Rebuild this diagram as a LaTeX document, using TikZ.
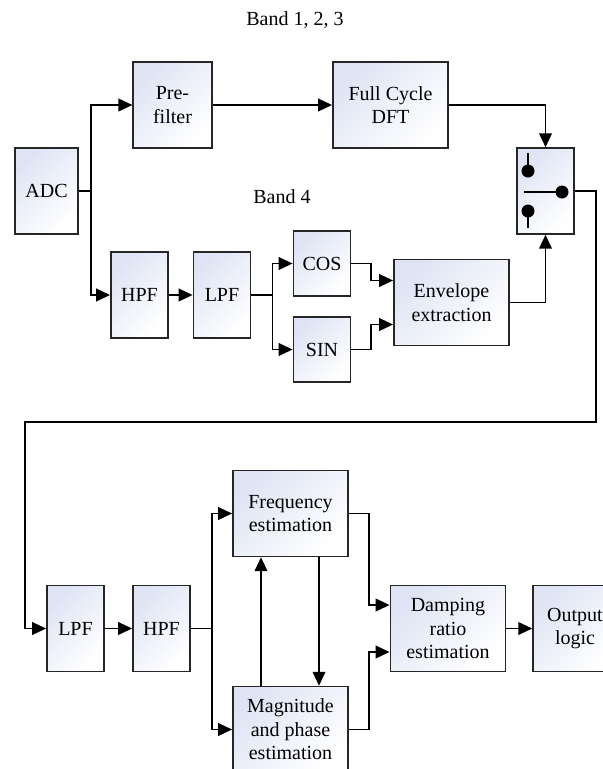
\documentclass[tikz,border=0pt]{standalone}
\usepackage{fontspec}
\setmainfont{Liberation Serif}
\usepackage{xcolor}
\usetikzlibrary{arrows.meta,calc}
\definecolor{tintcolor}{RGB}{222,228,244}
\newcommand{\edgecolor}{black!85!white}
\newcommand{\blockh}{64.5pt}
\newcommand{\narroww}{43pt}
\newcommand{\widew}{86.5pt}
\tikzset{
  block/.style={draw=\edgecolor, line width=1.1pt, top color=tintcolor, bottom color=white,
    shading angle=45, minimum height=\blockh, minimum width=\narroww, inner sep=1pt, align=center},
  wideblock/.style={block, minimum width=\widew},
  wire/.style={line width=1.4pt}
}

\begin{document}
\begin{tikzpicture}[x=0.75pt, y=-0.75pt, >={Triangle[length=10.5pt,width=9.5pt]},
    font=\rmfamily\fontsize{15}{17.6}\selectfont]
        \useasboundingbox (0,0) rectangle (603,769);

        % band 1, 2, 3
        \node[block, minimum width=47pt] (adc) at (46.5,191) {ADC};
        \node[block, minimum width=59pt] (pre) at (172.5,105) {Pre-\\filter};
        \node[wideblock] (dft) at (390.5,105) {Full Cycle\\DFT};
        \node[block] (sw) at (545.5,191) {};

        % band 4
        \node[block] (hpf) at (139.5,295) {HPF};
        \node[block] (lpf) at (222,295) {LPF};
        \node[block, minimum height=48.75pt] (cos) at (322,263.5) {COS};
        \node[block, minimum height=48.75pt] (sin) at (322,349.5) {SIN};
        \node[wideblock] (env) at (451.5,302.5) {Envelope\\extraction};

        % estimation
        \node[block] (lpfb) at (75.5,628.5) {LPF};
        \node[block] (hpfb) at (161.5,628.5) {HPF};
        \node[wideblock] (freq) at (290.5,513.5) {Frequency\\estimation};
        \node[wideblock] (mag) at (290.5,729.5) {Magnitude\\and phase\\estimation};
        \node[wideblock] (damp) at (448,628.5) {Damping\\ratio\\estimation};
        \node[block, minimum width=63pt] (out) at (575,628.5) {Output\\logic};

        % labels
        \node (band1) at (295,20) {Band 1, 2, 3};
        \node (band4) at (282,197) {Band 4};

        % switch contacts
        \begin{scope}[shift={(sw.center)}]
            \draw[wire] (-17.5,-38) -- (-17.5,-20);
            \fill (-17.5,-20) circle[radius=6.5];
            \draw[wire] (-21.5,1) -- (16.5,1);
            \fill (16.5,1) circle[radius=6.5];
            \fill (-17.5,20) circle[radius=6.5];
            \draw[wire] (-17.5,20) -- (-17.5,37);
        \end{scope}

        % junctions
        \coordinate (j1) at (91,191);
        \coordinate (j2) at (272.5,295);
        \coordinate (j3) at (212,628.5);
        \coordinate (r1) at (596,422);
        \coordinate (r2) at (25,422);

        % connectors
        \draw[wire] (adc) -- (j1);
        \draw[wire,->] (j1) |- (pre);
        \draw[wire,->] (j1) |- (hpf);
        \draw[wire,->] (pre) -- (dft);
        \draw[wire,->] (dft.east) -| (sw.north);
        \draw[wire,->] (hpf) -- (lpf);
        \draw[wire] (lpf) -- (j2);
        \draw[wire,->] (j2) |- (cos);
        \draw[wire,->] (j2) |- (sin);
        \draw[wire,->] (cos.east) -| ($(env.west)+(-22,-22)$) -- ($(env.west)+(0,-22)$);
        \draw[wire,->] (sin.east) -| ($(env.west)+(-22,22)$) -- ($(env.west)+(0,22)$);
        \draw[wire,->] (env.east) -| (sw.south);
        \draw[wire,->] (sw.east) -| (r1) -- (r2) |- (lpfb.west);
        \draw[wire,->] (lpfb) -- (hpfb);
        \draw[wire] (hpfb) -- (j3);
        \draw[wire,->] (j3) |- (freq);
        \draw[wire,->] (j3) |- (mag);
        \draw[wire,->] (freq.east) -| ($(damp.west)+(-21,-23.5)$) -- ($(damp.west)+(0,-23.5)$);
        \draw[wire,->] (mag.east) -| ($(damp.west)+(-21,23.5)$) -- ($(damp.west)+(0,23.5)$);
        \draw[wire,->] ($(mag.north)+(-29.5,0)$) -- ($(freq.south)+(-29.5,0)$);
        \draw[wire,->] ($(freq.south)+(28.5,0)$) -- ($(mag.north)+(28.5,0)$);
        \draw[wire,->] (damp) -- (out);
    \end{tikzpicture}
\end{document}
